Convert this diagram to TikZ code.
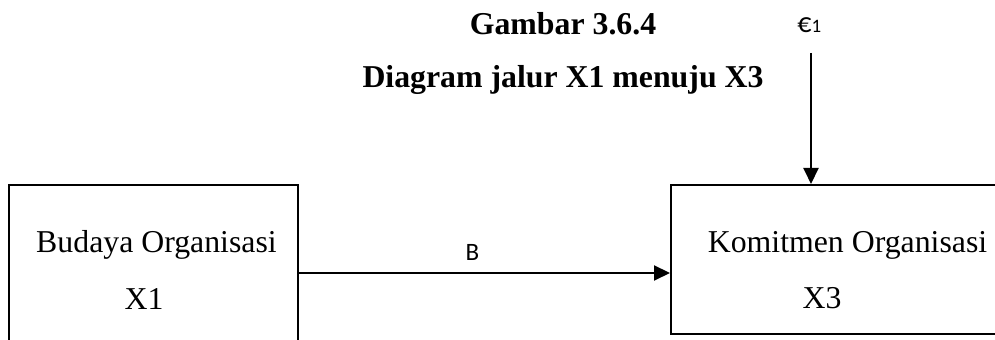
\documentclass[tikz,border=0pt]{standalone}
\usepackage{fontspec}
\setmainfont{Liberation Serif}
\newfontfamily\labelfont{Carlito}
\usetikzlibrary{arrows.meta}

\begin{document}
\begin{tikzpicture}[x=0.5pt,y=-0.5pt,
    box/.style={rectangle,draw,line width=1pt,inner sep=0pt},
    txt/.style={inner sep=0pt,anchor=base,font=\fontsize{15.9}{19}\selectfont},
    ttl/.style={txt,font=\fontsize{15.9}{19}\selectfont\bfseries},
    lbl/.style={inner sep=0pt,anchor=base,font=\labelfont\fontsize{12.5}{14}\selectfont},
    link/.style={line width=1pt,-{Triangle[length=8pt,width=7.5pt]}}]
\useasboundingbox (0,0) rectangle (995,340);
\clip (0,0) rectangle (995,340);
\node[ttl] (t1) at (563,35) {Gambar 3.6.4};
\node[ttl] (t2) at (563,88) {Diagram jalur X1 menuju X3};
\node[box,minimum width=144.5pt,minimum height=88pt] (x1) at (153.5,273) {};
\node[box,minimum width=174.5pt,minimum height=74.5pt] (x3) at (845.5,259.5) {};
\node[txt] (n1) at (156.5,253) {Budaya Organisasi};
\node[txt] (v1) at (144,310) {X1};
\node[txt] (n3) at (847.5,253) {Komitmen Organisasi};
\node[txt] (v3) at (822,309) {X3};
\node[lbl] (b) at (472.5,261) {B};
\node[lbl,anchor=base west,font=\labelfont\fontsize{14}{16}\selectfont] (e1) at (797,33) {€{\fontsize{9.5}{11}\selectfont 1}};
\coordinate (e1end) at (811,53);
\draw[link] (e1end) -- (e1end |- x3.north);
\draw[link] (x1) -- (x3.west |- x1);
\end{tikzpicture}
\end{document}
